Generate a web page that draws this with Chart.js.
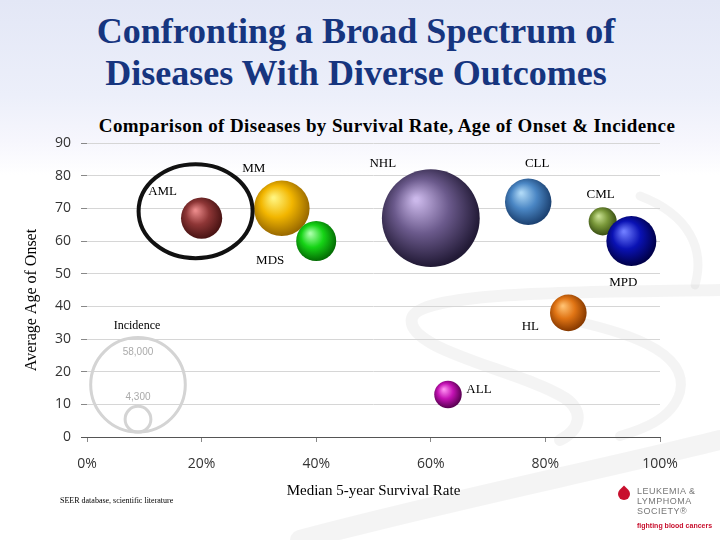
<!DOCTYPE html>
<html>
<head>
<meta charset="utf-8">
<script src="https://cdn.jsdelivr.net/npm/chart.js@4.4.1/dist/chart.umd.min.js"></script>
<style>
  html, body { margin: 0; padding: 0; }
  body {
    width: 720px; height: 540px; overflow: hidden; position: relative;
    background: linear-gradient(to bottom, #e3e7f6 0px, #eceffa 95px, #f6f6fd 140px, #ffffff 175px);
    font-family: "Liberation Serif", serif;
  }
  #chartBox { position: absolute; left: 0; top: 0; width: 720px; height: 540px; }
  .txt { position: absolute; white-space: nowrap; }
  #title {
    left: 0; width: 712px; top: 10px; text-align: center;
    color: #16357f; font-weight: bold; font-size: 36px; line-height: 42px;
  }
  #subtitle {
    left: 0; width: 774px; top: 115px; text-align: center;
    color: #000; font-weight: bold; font-size: 19px; line-height: 22px; letter-spacing: 0.4px;
  }
  #source { left: 60px; top: 496px; font-size: 8px; line-height: 9px; color: #000; }
  #logo { left: 616px; top: 484px; }
  #drop {
    position: absolute; left: 2px; top: 4px; width: 12px; height: 12px;
    background: #c8102e; border-radius: 0 50% 50% 50%; transform: rotate(45deg);
  }
  #logoText {
    position: absolute; left: 21px; top: 2px; font-family: "Liberation Sans", sans-serif;
    font-size: 9px; line-height: 10px; color: #777; letter-spacing: 0.5px;
  }
  #logoTag {
    position: absolute; left: 21px; top: 38px; font-family: "Liberation Sans", sans-serif;
    font-size: 7px; line-height: 8px; color: #c8102e; font-weight: bold;
  }
</style>
</head>
<body>
<div id="title" class="txt">Confronting a Broad Spectrum of<br>Diseases With Diverse Outcomes</div>
<div id="subtitle" class="txt">Comparison of Diseases by Survival Rate, Age of Onset &amp; Incidence</div>
<div id="chartBox"><canvas id="bubbleChart" width="720" height="540"></canvas></div>
<div id="source" class="txt">SEER database, scientific literature</div>
<div id="logo" class="txt">
  <div id="drop"></div>
  <div id="logoText">LEUKEMIA &amp;<br>LYMPHOMA<br>SOCIETY&reg;</div>
  <div id="logoTag">fighting blood cancers</div>
</div>
<script>
// values
const diseases = ['AML', 'MM', 'MDS', 'NHL', 'CLL', 'CML', 'MPD', 'HL', 'ALL'];
const survivalPct = [20, 34, 40, 60, 77, 90, 95, 84, 63];
const onsetAge = [67, 70, 60, 67, 72, 66, 60, 38, 13];
const incidence = [11000, 20000, 10400, 62000, 14000, 5100, 16200, 8700, 4900];
const keyIncidence = [58000, 4300];
const keyLabels = ['58,000', '4,300'];
const xTickValues = [0, 20, 40, 60, 80, 100];
const yTickValues = [0, 10, 20, 30, 40, 50, 60, 70, 80, 90];

// bubble area ~ incidence
const RADIUS_PER_SQRT = 0.1964;

// highlight / body / edge colours for the spheres
const sphereColors = [
    ['#ea8a8a', '#8e3636', '#4a1414'],
    ['#fff47e', '#f2b600', '#9a6a00'],
    ['#a8ffa8', '#16d416', '#046e04'],
    ['#cbb8ea', '#6b5a8c', '#221a36'],
    ['#aed8f6', '#4a86c4', '#1c4272'],
    ['#c8e092', '#7a983a', '#3a5014'],
    ['#6e7cff', '#0a12b4', '#00004a'],
    ['#ffc070', '#e07414', '#883a00'],
    ['#ff90f2', '#c412b4', '#5a0052']
];

// label offsets from bubble centre (px)
const labelOffsets = [[-39, -27], [-28, -40], [-46, 20], [-48, -55], [9, -38], [-2, -27], [-8, 42], [-38, 14], [31, -5]];
const KEY_AT = { x: 8.9, y: 1.5 };
// hand-drawn ring round AML (index 0), relative to its centre
const RING = { index: 0, dx: -6, dy: -7, rx: 57, ry: 47 };

const points = survivalPct.map((x, i) => ({
    x: x,
    y: onsetAge[i],
    r: RADIUS_PER_SQRT * Math.sqrt(incidence[i])
}));

function sphereFill(context) {
    const chart = context.chart;
    const raw = context.raw;
    if (!raw || context.dataIndex === undefined) return '#888';
    const c = sphereColors[context.dataIndex];
    const cx = chart.scales.x ? chart.scales.x.getPixelForValue(raw.x) : NaN;
    const cy = chart.scales.y ? chart.scales.y.getPixelForValue(raw.y) : NaN;
    const r = raw.r;
    if (!isFinite(cx) || !isFinite(cy) || !isFinite(r)) return c[1];
    const g = chart.ctx.createRadialGradient(cx - r * 0.3, cy - r * 0.38, r * 0.04, cx - r * 0.08, cy - r * 0.1, r * 1.08);
    g.addColorStop(0, c[0]);
    g.addColorStop(0.5, c[1]);
    g.addColorStop(1, c[2]);
    return g;
}

const swooshPlugin = {
    id: 'swoosh',
    beforeDraw(chart) {
        const c = chart.ctx;
        c.save();
        c.strokeStyle = 'rgba(0,0,0,0.045)';
        c.lineCap = 'round';
        c.lineWidth = 12;
        c.beginPath();
        c.moveTo(720, 290);
        c.bezierCurveTo(600, 292, 420, 290, 412, 318);
        c.bezierCurveTo(404, 350, 520, 370, 565, 398);
        c.bezierCurveTo(585, 412, 580, 430, 560, 440);
        c.stroke();
        c.lineWidth = 10;
        c.beginPath();
        c.moveTo(560, 318);
        c.bezierCurveTo(620, 330, 690, 350, 680, 392);
        c.bezierCurveTo(672, 420, 640, 430, 620, 436);
        c.stroke();
        c.lineWidth = 9;
        c.beginPath();
        c.moveTo(640, 196);
        c.bezierCurveTo(690, 215, 705, 250, 695, 285);
        c.stroke();
        c.lineWidth = 20;
        c.beginPath();
        c.moveTo(300, 540);
        c.bezierCurveTo(450, 500, 600, 470, 720, 440);
        c.stroke();
        c.restore();
    }
};

const keyPlugin = {
    id: 'incidenceKey',
    beforeDatasetsDraw(chart) {
        const c = chart.ctx;
        const x = chart.scales.x.getPixelForValue(KEY_AT.x);
        const base = chart.scales.y.getPixelForValue(KEY_AT.y);
        const radii = keyIncidence.map(v => RADIUS_PER_SQRT * Math.sqrt(v));
        c.save();
        c.strokeStyle = '#d4d4d4';
        c.lineWidth = 3;
        radii.forEach(r => {
            c.beginPath();
            c.arc(x, base - r, r, 0, Math.PI * 2);
            c.stroke();
        });
        c.textAlign = 'center';
        c.textBaseline = 'middle';
        c.fillStyle = '#000';
        c.font = '12px "Liberation Serif"';
        c.fillText('Incidence', x - 1, base - 2 * radii[0] - 12);
        c.fillStyle = '#aaaaaa';
        c.font = '10px "Liberation Sans"';
        c.fillText(keyLabels[0], x, base - 2 * radii[0] + 15);
        c.fillText(keyLabels[1], x, base - 2 * radii[1] - 9);
        c.restore();
    }
};

const labelPlugin = {
    id: 'bubbleLabels',
    afterDatasetsDraw(chart) {
        const c = chart.ctx;
        const meta = chart.getDatasetMeta(0);
        c.save();
        c.font = '13px "Liberation Serif"';
        c.fillStyle = '#000';
        c.textAlign = 'center';
        c.textBaseline = 'middle';
        meta.data.forEach((el, i) => {
            c.fillText(diseases[i], el.x + labelOffsets[i][0], el.y + labelOffsets[i][1]);
        });
        const el = meta.data[RING.index];
        c.strokeStyle = '#111';
        c.lineWidth = 4;
        c.beginPath();
        c.ellipse(el.x + RING.dx, el.y + RING.dy, RING.rx, RING.ry, 0, 0, Math.PI * 2);
        c.stroke();
        c.restore();
    }
};

const ctx = document.getElementById('bubbleChart').getContext('2d');
new Chart(ctx, {
    type: 'bubble',
    data: {
        datasets: [{
            label: 'Diseases',
            data: points,
            backgroundColor: sphereFill,
            borderWidth: 0,
            hoverBorderWidth: 0
        }]
    },
    options: {
        responsive: false,
        animation: false,
        layout: { padding: { left: 0, right: 60, top: 143, bottom: 36 } },
        plugins: {
            legend: { display: false },
            tooltip: { enabled: false }
        },
        scales: {
            x: {
                type: 'linear',
                min: 0,
                max: 100,
                afterBuildTicks: s => { s.ticks = xTickValues.map(v => ({ value: v })); },
                afterFit: s => { s.height = 67; },
                border: { display: true, color: '#555', width: 1 },
                grid: { drawOnChartArea: false, drawTicks: true, tickLength: 5, color: '#888' },
                ticks: {
                    padding: 14,
                    color: '#333',
                    font: { family: 'Open Sans', size: 14 },
                    callback: v => v + '%'
                },
                title: {
                    display: true,
                    text: 'Median 5-year Survival Rate',
                    color: '#000',
                    font: { family: 'Liberation Serif', size: 15 },
                    padding: { top: 4, bottom: 4 }
                }
            },
            y: {
                type: 'linear',
                min: 0,
                max: 90,
                afterBuildTicks: s => { s.ticks = yTickValues.map(v => ({ value: v })); },
                afterFit: s => { s.width = 87; },
                border: { display: false },
                grid: {
                    color: c => c.tick && c.tick.value === 0 ? '#555' : '#d6d6d6',
                    tickColor: c => c.tick && c.tick.value === 0 ? '#555' : '#888',
                    tickLength: 6
                },
                ticks: {
                    padding: 10,
                    color: '#333',
                    font: { family: 'Open Sans', size: 14 }
                },
                title: {
                    display: true,
                    // trailing spaces nudge the centred title down to where the slide has it
                    text: 'Average Age of Onset     ',
                    color: '#000',
                    font: { family: 'Liberation Serif', size: 16 },
                    padding: { top: 22, bottom: 0 }
                }
            }
        }
    },
    plugins: [swooshPlugin, keyPlugin, labelPlugin]
});
</script>
</body>
</html>
